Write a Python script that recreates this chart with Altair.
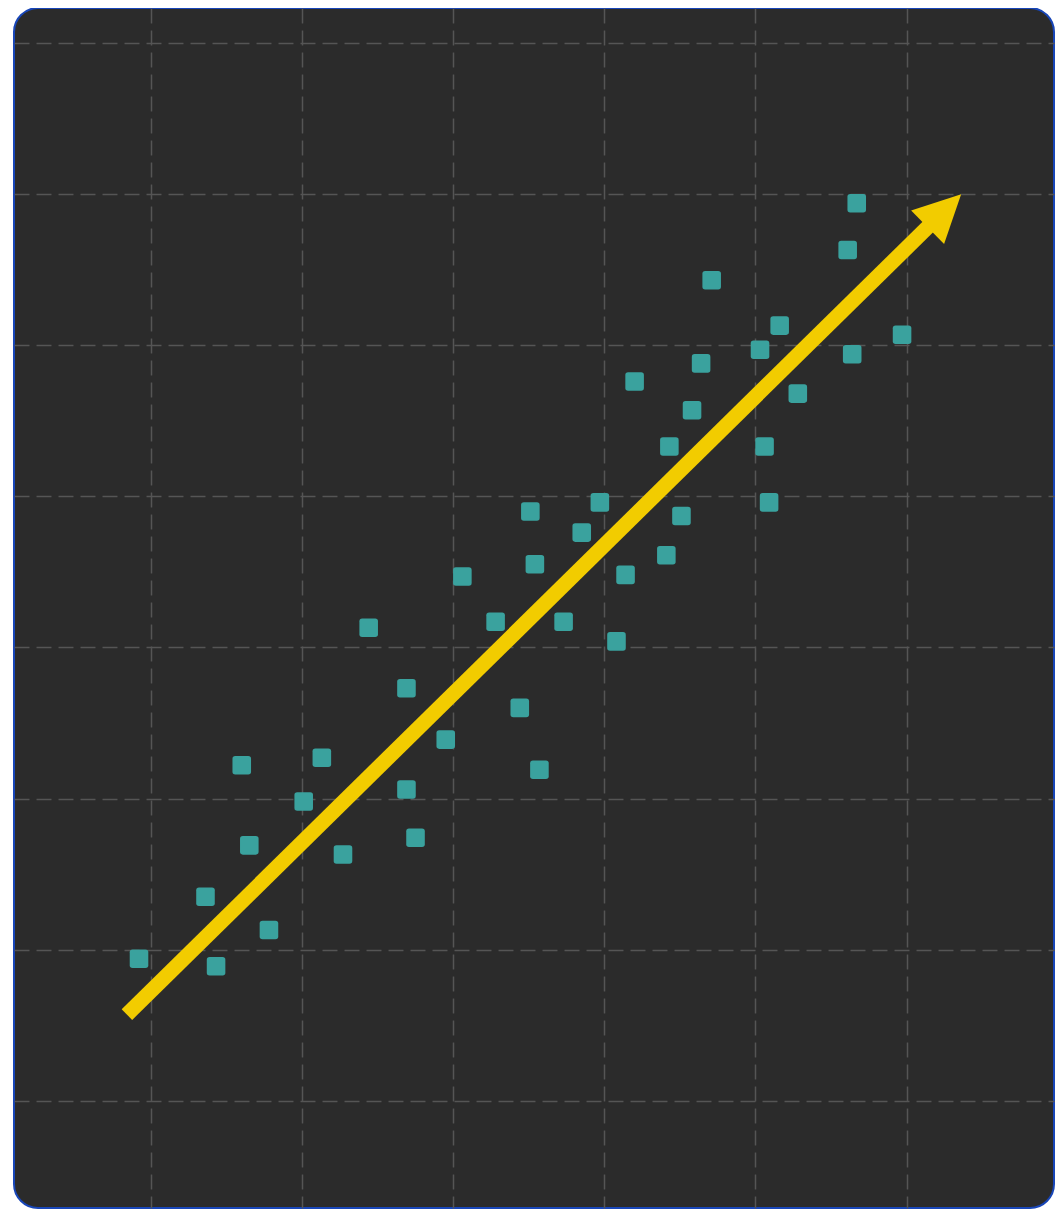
import altair as alt
import pandas as pd

# Scatter values (data units; grid lines fall on whole numbers)
x_vals = [0.92, 1.36, 1.43, 1.60, 1.65, 1.78, 2.01, 2.13, 2.27, 2.44,
          2.69, 2.69, 2.75, 2.95, 3.06, 3.28, 3.44, 3.51, 3.54, 3.57,
          3.73, 3.85, 3.97, 4.08, 4.14, 4.20, 4.41, 4.43, 4.51, 4.58,
          4.64, 4.71, 5.03, 5.06, 5.09, 5.16, 5.28, 5.61, 5.64, 5.67, 5.97]
y_vals = [0.94, 1.35, 0.89, 2.22, 1.69, 1.13, 1.98, 2.27, 1.63, 3.13,
          2.73, 2.06, 1.74, 2.39, 3.47, 3.17, 2.60, 3.90, 3.55, 2.19,
          3.17, 3.76, 3.96, 3.04, 3.48, 4.76, 3.61, 4.33, 3.87, 4.57,
          4.88, 5.43, 4.97, 4.33, 3.96, 5.13, 4.68, 5.63, 4.94, 5.94, 5.07]

# Trend arrow: start, head centre
arrow_start = [0.84, 0.57]
arrow_head = [6.25, 5.89]
arrow_angle = 45.5

grid_x = [1, 2, 3, 4, 5, 6]
grid_y = [0, 1, 2, 3, 4, 5, 6, 7]

X_DOMAIN = [0.0927, 6.9755]
Y_DOMAIN = [-0.710, 7.232]

pts = pd.DataFrame({"x": x_vals, "y": y_vals})
shaft = pd.DataFrame({"x": [arrow_start[0]], "y": [arrow_start[1]],
                      "x2": [arrow_head[0]], "y2": [arrow_head[1]]})
head = pd.DataFrame({"x": [arrow_head[0]], "y": [arrow_head[1]]})

xs = alt.Scale(domain=X_DOMAIN, nice=False, zero=False)
ys = alt.Scale(domain=Y_DOMAIN, nice=False, zero=False)

grid_style = dict(grid=True, labels=False, ticks=False, domain=False, title=None,
                  gridColor="#555555", gridWidth=1.5, gridDash=[15, 7])

ROUND_SQ = ("M -0.7 -1 L 0.7 -1 Q 1 -1 1 -0.7 L 1 0.7 Q 1 1 0.7 1 "
            "L -0.7 1 Q -1 1 -1 0.7 L -1 -0.7 Q -1 -1 -0.7 -1 Z")

points = alt.Chart(pts).mark_point(
    shape=ROUND_SQ, filled=True, size=345, color="#3aa29e", opacity=1, strokeWidth=0
).encode(
    x=alt.X("x:Q", scale=xs, axis=alt.Axis(values=grid_x, **grid_style)),
    y=alt.Y("y:Q", scale=ys, axis=alt.Axis(values=grid_y, **grid_style)),
)

line = alt.Chart(shaft).mark_rule(
    color="#f2cc00", strokeWidth=15, strokeCap="butt"
).encode(
    x=alt.X("x:Q", scale=xs), y=alt.Y("y:Q", scale=ys),
    x2="x2:Q", y2="y2:Q",
)

arrowhead = alt.Chart(head).mark_point(
    shape="M 0 -1 L 1 1 L -1 1 Z", filled=True, size=2209, angle=arrow_angle,
    color="#f2cc00", opacity=1, strokeWidth=0
).encode(
    x=alt.X("x:Q", scale=xs), y=alt.Y("y:Q", scale=ys),
)

chart = alt.layer(points, line, arrowhead).properties(
    width=1040, height=1200,
    autosize=alt.AutoSizeParams(type="none"),
    padding={"left": 6, "top": 0, "right": 2, "bottom": 2},
    background="white",
).configure_view(
    fill="#2b2b2b", stroke="#1846b8", strokeWidth=2, cornerRadius=24
)

chart.save("out.html", embed_options={"renderer": "svg", "actions": False})
